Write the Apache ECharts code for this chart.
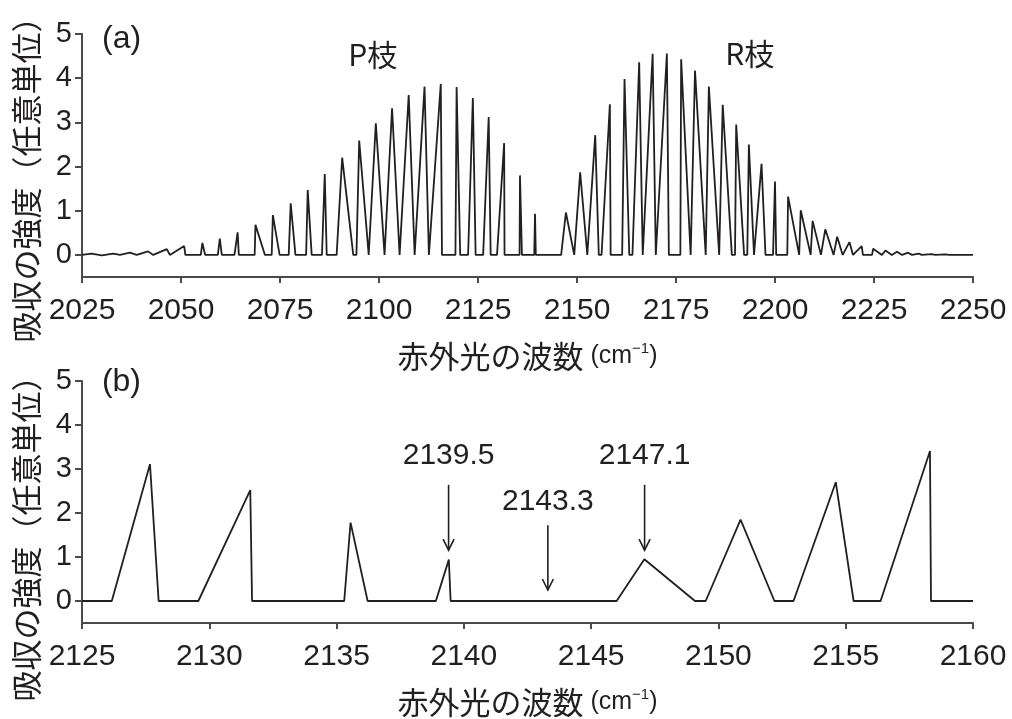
<!DOCTYPE html>
<html>
<head>
<meta charset="utf-8">
<script src="https://cdn.jsdelivr.net/npm/echarts@6/dist/echarts.min.js"></script>
<style>
html,body{margin:0;padding:0;background:#fff;}
#c{width:1012px;height:719px;}
</style>
</head>
<body>
<div id="c"></div>
<script>
// ---- Panel (a): full spectrum ----
const waveA = [2025.0,2027.4,2030.0,2032.9,2034.6,2037.1,2038.8,2041.7,2043.0,2046.4,2047.2,2050.8,2051.1,
  2055.0,2055.4,2056.1,2059.3,2059.8,2060.3,2063.5,2064.3,2064.6,2068.6,2068.8,2071.2,2072.9,2073.2,2074.9,
  2077.2,2077.7,2078.9,2081.6,2082.0,2083.0,2085.6,2086.3,2086.8,2089.3,2090.7,2093.5,2094.3,2095.0,2097.4,
  2097.9,2099.2,2101.4,2103.3,2105.2,2107.5,2109.0,2111.5,2112.6,2115.6,2115.9,2119.3,2119.6,2120.5,2122.5,
  2123.7,2124.4,2126.3,2127.7,2128.2,2129.8,2131.6,2131.7,2135.5,2135.6,2136.1,2139.2,2139.4,2139.6,2146.0,
  2147.2,2149.3,2149.7,2150.8,2152.6,2153.0,2154.6,2155.5,2156.2,2158.3,2158.5,2161.4,2162.0,2163.2,2164.0,
  2165.7,2166.6,2166.9,2169.1,2169.9,2170.2,2172.7,2173.2,2176.1,2176.3,2178.7,2179.1,2179.8,2182.5,2182.9,
  2183.3,2185.9,2186.4,2186.8,2189.1,2189.9,2190.2,2192.2,2193.0,2193.4,2194.7,2196.6,2197.6,2199.5,2200.0,
  2200.3,2203.1,2203.3,2206.1,2206.5,2209.0,2209.5,2211.6,2212.7,2214.8,2215.7,2217.1,2218.8,2219.7,2221.9,
  2222.2,2224.5,2224.8,2227.0,2227.9,2229.5,2230.8,2232.1,2233.6,2234.6,2236.3,2237.1,2239.5,2240.5,2243.0,
  2244.0,2250.0];
const absA = [0,0.03,-0.01,0.03,0,0.05,0,0.08,0,0.13,0,0.20,0,
  0,0.27,0,0,0.37,0,0,0.51,0,0,0.68,0,0,0.90,0,
  0,1.17,0,0,1.47,0,0,1.83,0,0,2.20,0,0,2.59,0,
  0,2.98,0,3.32,0,3.62,0,3.81,0,3.87,0,0,3.80,0,0,
  3.55,0,0,3.12,0,0,2.53,0,0,1.80,0,0,0.93,0,0,
  0.96,0,0,1.87,0,0,2.71,0,0,3.41,0,0,3.98,0,0,
  4.36,0,0,4.55,0,0,4.56,0,0,4.43,0,0,4.17,0,0,
  3.81,0,0,3.40,0,0,2.95,0,0,2.50,0,2.06,0,0,1.66,
  0,0,1.32,0,1.01,0,0.77,0,0.58,0,0.41,0,0.29,0,0.20,
  0,0,0.14,0,0.10,0,0.07,0,0.05,0,0.03,0,0.02,0,0.01,
  0,0];

// ---- Panel (b): zoomed band centre ----
const waveB = [2125.0,2126.17,2127.67,2128.01,2129.57,2131.61,2131.68,2135.30,2135.55,2136.22,2138.90,2139.41,
  2139.48,2146.0,2147.09,2149.08,2149.5,2150.87,2152.2,2152.95,2154.61,2155.31,2156.37,2158.31,2158.35,2160.0];
const absB = [0,0,3.11,0,0,2.52,0,0,1.78,0,0,0.94,0,0,0.95,0,0,1.85,0,0,2.70,0,0,3.41,0,0];

const yTickValues = [0,1,2,3,4,5];

// annotations
const branchLabels = ['P枝','R枝'];
const branchPos = [[2098.4,4.53],[2193.6,4.55]];
const panelLabels = ['(a)','(b)'];
const panelPos = [[2035.0,4.89],[2126.55,4.98]];
const peakLabels = ['2139.5','2143.3','2147.1'];
const peakLabelPos = [[2139.4,3.30],[2143.3,2.25],[2147.1,3.30]];
const arrowsB = [[2139.4,2.64,1.155],[2143.3,1.72,0.25],[2147.1,2.64,1.155]];

const INK = '#231f20';
const AXC = '#4a4a4a';
const numFont = '"Liberation Sans", Arial, sans-serif';
const cjkFont = '"Noto Sans CJK JP", sans-serif';

const zip = (a,b) => a.map((v,i)=>[v,b[i]]);

function xAxisCfg(gridIndex, min, max, interval){
  return {
    type:'value', gridIndex, min, max, interval,
    name:'{a|赤外光の波数}{b| (cm}{s|−1}{b|)}',
    nameLocation:'middle', nameGap:64,
    nameTextStyle:{
      rich:{
        a:{fontSize:31, fontFamily:cjkFont, color:INK},
        b:{fontSize:25, fontFamily:numFont, color:INK},
        s:{fontSize:15, fontFamily:numFont, color:INK, verticalAlign:'top', padding:[0,0,12,0]}
      }
    },
    axisLine:{onZero:false, lineStyle:{color:AXC, width:2}},
    axisTick:{length:6, lineStyle:{color:AXC, width:2}},
    axisLabel:{fontSize:30, fontFamily:numFont, color:INK, margin:19, formatter:(v)=>String(v)},
    splitLine:{show:false}
  };
}
function yAxisCfg(gridIndex){
  return {
    type:'value', gridIndex, min:-0.5, max:5,
    axisLine:{show:true, lineStyle:{color:AXC, width:2}},
    axisTick:{show:true, length:7, customValues:yTickValues, lineStyle:{color:AXC, width:2}},
    axisLabel:{fontSize:29, fontFamily:numFont, color:INK, margin:10, customValues:yTickValues,
      formatter:(v)=>String(v)},
    splitLine:{show:false}
  };
}

function textSeries(xi, pos, labels, size, font){
  return {
    type:'custom', xAxisIndex:xi, yAxisIndex:xi, silent:true,
    data: pos,
    renderItem:function(params, api){
      const p = api.coord([api.value(0), api.value(1)]);
      return {type:'text', x:p[0], y:p[1],
        style:{text:labels[params.dataIndex], fontSize:size, fontFamily:font, fill:INK,
          align:'center', verticalAlign:'middle', textAlign:'center', textVerticalAlign:'middle'}};
    }
  };
}

const chart = echarts.init(document.getElementById('c'), null, {renderer:'canvas'});
chart.setOption({
  animation:false,
  backgroundColor:'#fff',
  grid:[
    {left:82, right:39, top:34, height:243},
    {left:82, right:39, top:381, height:244}
  ],
  xAxis:[xAxisCfg(0,2025,2250,25), xAxisCfg(1,2125,2160,5)],
  yAxis:[yAxisCfg(0), yAxisCfg(1)],
  graphic:[
    {type:'text', x:26, y:172, rotation:Math.PI/2,
      style:{text:'吸収の強度（任意単位）', fontSize:31, fontFamily:cjkFont, fill:INK,
        align:'center', verticalAlign:'middle'}},
    {type:'text', x:26, y:531, rotation:Math.PI/2,
      style:{text:'吸収の強度（任意単位）', fontSize:31, fontFamily:cjkFont, fill:INK,
        align:'center', verticalAlign:'middle'}}
  ],
  series:[
    {type:'line', xAxisIndex:0, yAxisIndex:0, data:zip(waveA,absA), showSymbol:false,
      lineStyle:{color:INK, width:1.8}, silent:true},
    {type:'line', xAxisIndex:1, yAxisIndex:1, data:zip(waveB,absB), showSymbol:false,
      lineStyle:{color:INK, width:1.8}, silent:true},
    textSeries(0, branchPos, branchLabels, 30, cjkFont),
    textSeries(0, [panelPos[0]], [panelLabels[0]], 32, numFont),
    textSeries(1, [panelPos[1]], [panelLabels[1]], 32, numFont),
    textSeries(1, peakLabelPos, peakLabels, 30, numFont),
    {
      type:'custom', xAxisIndex:1, yAxisIndex:1, silent:true,
      data: arrowsB,
      renderItem:function(params, api){
        const a = api.coord([api.value(0), api.value(1)]);
        const b = api.coord([api.value(0), api.value(2)]);
        return {type:'group', children:[
          {type:'line', shape:{x1:a[0], y1:a[1], x2:b[0], y2:b[1]}, style:{stroke:INK, lineWidth:1.6}},
          {type:'polyline', shape:{points:[[b[0]-5.5,b[1]-11],[b[0],b[1]],[b[0]+5.5,b[1]-11]]},
            style:{stroke:INK, lineWidth:1.6, fill:'none'}}
        ]};
      }
    }
  ]
});
</script>
</body>
</html>
